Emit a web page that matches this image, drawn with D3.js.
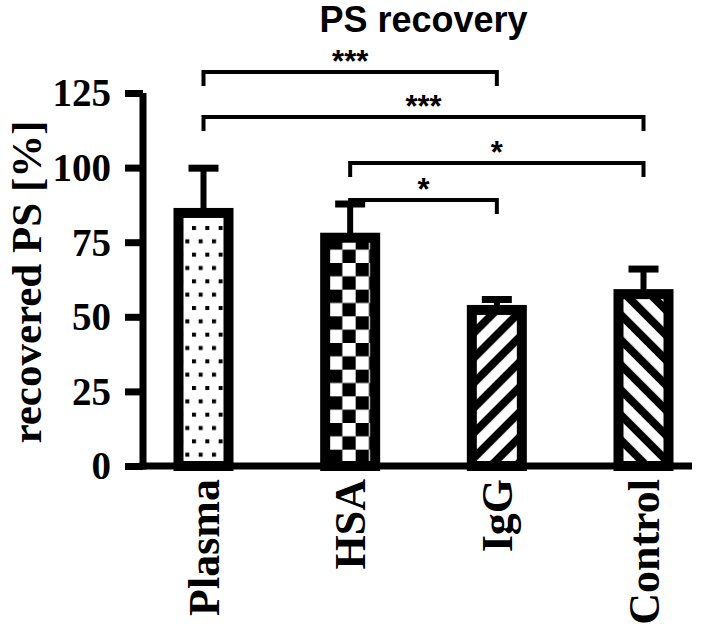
<!DOCTYPE html>
<html>
<head>
<meta charset="utf-8">
<script src="https://cdn.jsdelivr.net/npm/d3@7"></script>
<style>
  html, body { margin: 0; padding: 0; background: #fff; }
  svg { display: block; }
</style>
</head>
<body>
<div id="chart"></div>
<script>
// ---- data ----
const categories = ["Plasma", "HSA", "IgG", "Control"];
const means = [84.8, 76.5, 52.3, 57.6];
const errors = [15.0, 11.3, 3.5, 8.4];
const patterns = ["dots", "checker", "stripeUp", "stripeDown"];
const yTicks = [0, 25, 50, 75, 100, 125];
const title = "PS recovery";
const yLabel = "recovered PS [%]";
// significance brackets: [from, to, label]
const brackets = [
  ["Plasma", "IgG", "***"],
  ["Plasma", "Control", "***"],
  ["HSA", "Control", "*"],
  ["HSA", "IgG", "*"]
];
const bracketLevels = [72, 117, 163, 200];

// ---- layout ----
const W = 708, H = 637;
const svg = d3.select("#chart").append("svg").attr("width", W).attr("height", H);

const y = d3.scaleLinear().domain([0, 125]).range([466, 93]);
const x = d3.scalePoint().domain(categories).range([203.5, 643.5]);
const barW = 50;
const axisX = 143;

const defs = svg.append("defs");
// dots
const pd = defs.append("pattern").attr("id", "dots").attr("patternUnits", "userSpaceOnUse")
  .attr("width", 13.33).attr("height", 26.67).attr("patternTransform", "translate(192,226)");
pd.append("rect").attr("width", 13.33).attr("height", 26.67).attr("fill", "#fff");
pd.append("rect").attr("x", 0).attr("y", 0).attr("width", 4).attr("height", 4).attr("fill", "#000");
pd.append("rect").attr("x", 6.67).attr("y", 13.33).attr("width", 4).attr("height", 4).attr("fill", "#000");
// checker
const pc = defs.append("pattern").attr("id", "checker").attr("patternUnits", "userSpaceOnUse")
  .attr("width", 26.67).attr("height", 26.67).attr("patternTransform", "translate(329,343)");
pc.append("rect").attr("width", 26.67).attr("height", 26.67).attr("fill", "#fff");
pc.append("rect").attr("x", 0).attr("y", 0).attr("width", 13.33).attr("height", 13.33).attr("fill", "#000");
pc.append("rect").attr("x", 13.33).attr("y", 13.33).attr("width", 13.33).attr("height", 13.33).attr("fill", "#000");
// stripes
function stripe(id, angle) {
  const p = defs.append("pattern").attr("id", id).attr("patternUnits", "userSpaceOnUse")
    .attr("width", 17.7).attr("height", 17.7).attr("patternTransform", `rotate(${angle})`);
  p.append("rect").attr("width", 17.7).attr("height", 17.7).attr("fill", "#fff");
  p.append("rect").attr("x", 0).attr("y", 0).attr("width", 8).attr("height", 17.7).attr("fill", "#000");
}
stripe("stripeUp", 45);
stripe("stripeDown", -45);

// ---- error bars ----
const g = svg.append("g");
categories.forEach((c, i) => {
  const cx = x(c);
  g.append("line").attr("x1", cx).attr("x2", cx)
    .attr("y1", y(means[i])).attr("y2", y(means[i] + errors[i]))
    .attr("stroke", "#000").attr("stroke-width", 6);
  g.append("line").attr("x1", cx - 15).attr("x2", cx + 15)
    .attr("y1", y(means[i] + errors[i])).attr("y2", y(means[i] + errors[i]))
    .attr("stroke", "#000").attr("stroke-width", 7);
});

// ---- bars ----
g.selectAll("rect.bar").data(categories).join("rect")
  .attr("class", "bar")
  .attr("x", d => x(d) - barW / 2)
  .attr("width", barW)
  .attr("y", (d, i) => y(means[i]))
  .attr("height", (d, i) => y(0) - y(means[i]))
  .attr("fill", (d, i) => `url(#${patterns[i]})`)
  .attr("stroke", "#000").attr("stroke-width", 10);

// ---- axes ----
const yAxis = d3.axisLeft(y).tickValues(yTicks).tickSize(18).tickPadding(14).tickFormat(d3.format("d"));
const ya = svg.append("g").attr("transform", `translate(${axisX},0)`).call(yAxis);
ya.select(".domain").attr("stroke", "#000").attr("stroke-width", 7)
  .attr("d", `M0,${y(125)}V${y(0) + 3.5}`);
ya.selectAll(".tick line").attr("stroke", "#000").attr("stroke-width", 7);
ya.selectAll(".tick text")
  .attr("font-family", "'Liberation Serif', 'Times New Roman', serif")
  .attr("font-weight", "bold").attr("font-size", 39).attr("fill", "#000")
  .attr("dy", "0.33em");

svg.append("line").attr("x1", axisX - 3.5).attr("x2", 692)
  .attr("y1", y(0)).attr("y2", y(0)).attr("stroke", "#000").attr("stroke-width", 7);

// x labels
svg.selectAll("text.xl").data(categories).join("text")
  .attr("class", "xl")
  .attr("transform", d => `translate(${x(d) + 15},479) rotate(-90)`)
  .attr("text-anchor", "end")
  .attr("font-family", "'Liberation Serif', 'Times New Roman', serif")
  .attr("font-weight", "bold").attr("font-size", 44).attr("fill", "#000")
  .text(d => d);

// y label
svg.append("text")
  .attr("transform", `translate(41,282) rotate(-90)`)
  .attr("text-anchor", "middle")
  .attr("font-family", "'Liberation Serif', 'Times New Roman', serif")
  .attr("font-weight", "bold").attr("font-size", 43).attr("fill", "#000")
  .text(yLabel);

// title
svg.append("text").attr("x", 423.5).attr("y", 32).attr("text-anchor", "middle")
  .attr("font-family", "'Liberation Sans', Arial, sans-serif")
  .attr("font-weight", "bold").attr("font-size", 36).attr("fill", "#000")
  .text(title);

// brackets
brackets.forEach((b, i) => {
  const x1 = x(b[0]), x2 = x(b[1]), by = bracketLevels[i];
  svg.append("path")
    .attr("d", `M${x1},${by + 14}V${by}H${x2}V${by + 14}`)
    .attr("fill", "none").attr("stroke", "#000").attr("stroke-width", 4);
  svg.append("text").attr("x", (x1 + x2) / 2).attr("y", by - 0.5)
    .attr("text-anchor", "middle")
    .attr("font-family", "'Liberation Sans', Arial, sans-serif")
    .attr("font-weight", "bold").attr("font-size", 31).attr("fill", "#000")
    .text(b[2]);
});
</script>
</body>
</html>
